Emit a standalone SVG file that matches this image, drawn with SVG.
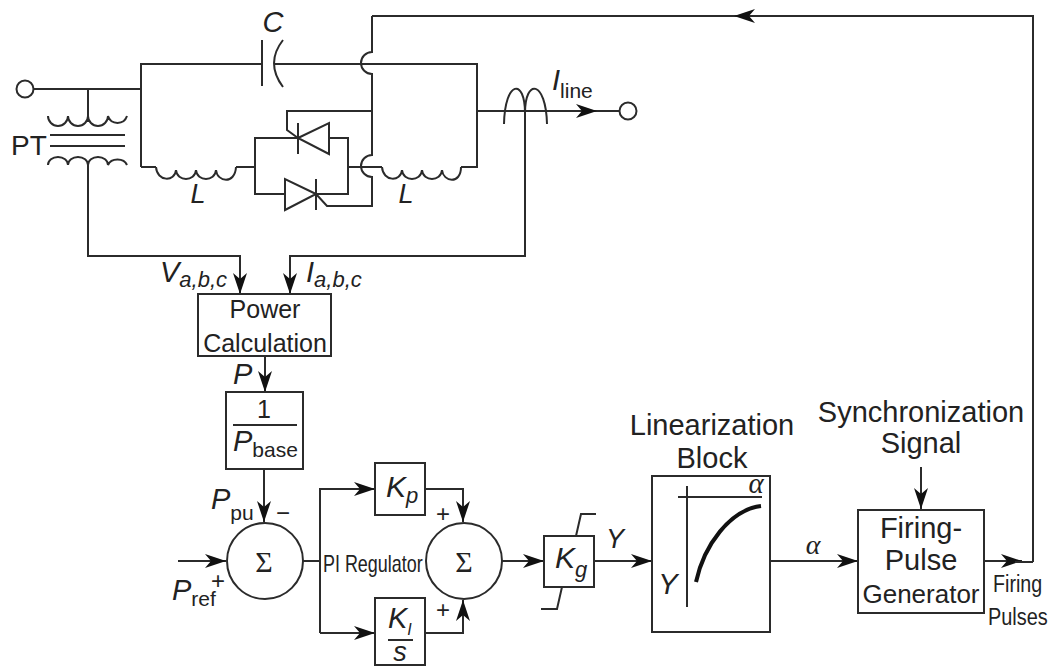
<svg xmlns="http://www.w3.org/2000/svg" width="1052" height="666" viewBox="0 0 1052 666">
<style>
.w{fill:none;stroke:#2b2b2b;stroke-width:2}
.b{fill:#fff;stroke:#2b2b2b;stroke-width:2}
text{font-family:"Liberation Sans",Arial,sans-serif;fill:#222;stroke:none}
.i{font-style:italic}
.m{text-anchor:middle}
.s{font-family:"Liberation Serif","Times New Roman",serif}
</style>
<defs>
<marker id="a" markerUnits="userSpaceOnUse" markerWidth="24" markerHeight="18" refX="21" refY="9" orient="auto"><path d="M0 2L21 9L0 16L6 9Z" fill="#111"/></marker>
</defs>
<rect width="1052" height="666" fill="#fff"/>
<g id="connectors" class="w">
<path d="M34 89H141M141 167V64H261M274 64H372"/>
<path d="M372 64H477V167H461M348 167H382"/>
<path d="M141 167H156M236 167H255"/>
<path d="M477 111H525"/>
<path d="M525 111H597" marker-end="url(#a)"/>
<path d="M597 111H620"/>
<path d="M372 16V52A11 11 0 0 0 372 74V155A11 11 0 0 0 372 177V206H327L316 194"/>
<path d="M372 111H287V130L298 138"/>
<path d="M298 138H255V194H285M316 194H348V138H330"/>
<path d="M1033 562V16H372"/>
<path d="M756 16H734" marker-end="url(#a)"/>
<path d="M88 89V122"/>
<path d="M88 165V256H240V294" marker-end="url(#a)"/>
<path d="M525 113V256H290V294" marker-end="url(#a)"/>
<path d="M265 356V392" marker-end="url(#a)"/>
<path d="M264 469V522" marker-end="url(#a)"/>
<path d="M178 561H226" marker-end="url(#a)"/>
<path d="M303 561H320"/>
<path d="M320 633V489H375" marker-end="url(#a)"/>
<path d="M320 633H375" marker-end="url(#a)"/>
<path d="M425 489H463V522" marker-end="url(#a)"/>
<path d="M425 633H463V600" marker-end="url(#a)"/>
<path d="M502 561H544" marker-end="url(#a)"/>
<path d="M594 561H652" marker-end="url(#a)"/>
<path d="M770 561H858" marker-end="url(#a)"/>
<path d="M921 467V509" marker-end="url(#a)"/>
<path d="M984 561H1022" marker-end="url(#a)"/>
<path d="M1015 562H1033"/>
</g>
<g id="terminal-in"><circle class="b" cx="25" cy="89" r="8.5"/></g>
<g id="terminal-out"><circle class="b" cx="628" cy="111" r="8.5"/></g>
<g id="capacitor" class="w"><path d="M262 40V86M283 40Q265 63 283 87"/><text x="273" y="32" class="i m" font-size="29">C</text></g>
<g id="transformer" class="w">
<path d="M48 116a10 10 0 0 0 20 0a10 10 0 0 0 20 0a10 10 0 0 0 20 0a10 10 0 0 0 19 0"/>
<path d="M50 135H125M50 146H125"/>
<path d="M48 165a10 8 0 0 1 20 0a10 8 0 0 1 20 0a10 8 0 0 1 20 0a10 8 0 0 1 19 0"/>
<text x="11" y="155" font-size="28">PT</text>
</g>
<g id="inductor-left" class="w"><path d="M156 167c1 15 19 15 20 3c1 12 19 12 20 0c1 12 19 12 20 0c1 12 19 15 20 -3"/><text x="198" y="203" class="i m" font-size="27">L</text></g>
<g id="inductor-right" class="w"><path d="M382 167c1 15 19 15 20 3c1 12 19 12 20 0c1 12 19 12 20 0c1 12 19 15 19 -3"/><text x="406" y="203" class="i m" font-size="27">L</text></g>
<g id="thyristor-upper" class="w"><path d="M298 138L329 123V154ZM298 123V154"/></g>
<g id="thyristor-lower" class="w"><path d="M316 194L285 179V210ZM316 179V210"/></g>
<g id="current-transformer" class="w"><path d="M504 124C505 80 525 78 525 113C525 78 546 80 547 124"/></g>
<g id="line-labels">
<text x="552" y="90" class="i" font-size="29">I<tspan dy="8" font-size="21" font-style="normal">line</tspan></text>
<text x="160" y="282" class="i" font-size="29">V<tspan dy="5" font-size="22">a,b,c</tspan></text>
<text x="306" y="282" class="i" font-size="29">I<tspan dy="5" font-size="22">a,b,c</tspan></text>
<text x="233" y="384" class="i" font-size="29">P</text>
</g>
<g id="power-calculation"><rect class="b" x="198" y="294" width="133" height="62"/><text x="265" y="318" class="m" font-size="25">Power</text><text x="265" y="352" class="m" font-size="25">Calculation</text></g>
<g id="pbase"><rect class="b" x="226" y="392" width="77" height="77"/><text x="264" y="418" class="m" font-size="25">1</text><path class="w" d="M233 425H297"/><text x="233" y="451" class="i" font-size="29">P<tspan dy="6" font-size="21" font-style="normal">base</tspan></text></g>
<g id="sum-1"><circle class="b" cx="265" cy="561" r="38"/><text x="264" y="572" class="m s" font-size="30">Σ</text>
<text x="211" y="509" class="i" font-size="29">P<tspan dy="11" font-size="21" font-style="normal">pu</tspan></text>
<text x="276" y="521" font-size="24">−</text>
<text x="172" y="600" class="i" font-size="29">P<tspan dy="6" font-size="21" font-style="normal">ref</tspan></text>
<text x="218" y="589" class="m" font-size="24">+</text></g>
<g id="pi-regulator"><text transform="translate(323 572) scale(.78 1)" font-size="23">PI Regulator</text></g>
<g id="kp"><rect class="b" x="375" y="463" width="50" height="52"/><text x="386" y="497" class="i" font-size="30">K<tspan dy="6" font-size="22">p</tspan></text></g>
<g id="ki"><rect class="b" x="375" y="598" width="50" height="67"/><text x="388" y="628" class="i" font-size="29">K<tspan dy="7" font-size="16">I</tspan></text><path class="w" d="M388 640H413"/><text x="400" y="661" class="i m" font-size="27">s</text></g>
<g id="sum-2"><circle class="b" cx="464" cy="561" r="38"/><text x="464" y="572" class="m s" font-size="30">Σ</text>
<text x="443" y="522" class="m" font-size="24">+</text><text x="443" y="618" class="m" font-size="24">+</text></g>
<g id="kg"><path class="w" d="M576 536L581 514H596M562 587L557 609H541"/><rect class="b" x="544" y="536" width="50" height="51"/><text x="555" y="568" class="i" font-size="30">K<tspan dy="9" font-size="22">g</tspan></text>
<text x="606" y="548" class="i" font-size="27">Y</text></g>
<g id="linearization-block"><rect class="b" x="652" y="476" width="118" height="156"/>
<path class="w" d="M687 486V607M678 497H762"/>
<path d="M696 582C704 545 730 510 761 506" fill="none" stroke="#111" stroke-width="4"/>
<text x="756" y="493" class="s m i" font-size="29">α</text>
<text x="668" y="594" class="i m" font-size="29">Y</text>
<text x="712" y="435" class="m" font-size="29">Linearization</text><text x="712" y="468" class="m" font-size="29">Block</text></g>
<g id="alpha-label"><text x="813" y="554" class="s m i" font-size="28">α</text></g>
<g id="firing-pulse-generator"><rect class="b" x="858" y="510" width="126" height="103"/>
<text x="921" y="538" class="m" font-size="29">Firing-</text><text x="921" y="570" class="m" font-size="29">Pulse</text><text x="921" y="603" class="m" font-size="26">Generator</text></g>
<g id="sync"><text x="921" y="422" class="m" font-size="29">Synchronization</text><text x="921" y="453" class="m" font-size="29">Signal</text></g>
<g id="firing-pulses"><text transform="translate(993 592) scale(.82 1)" font-size="24">Firing</text><text transform="translate(988 625) scale(.83 1)" font-size="24">Pulses</text></g>
</svg>
